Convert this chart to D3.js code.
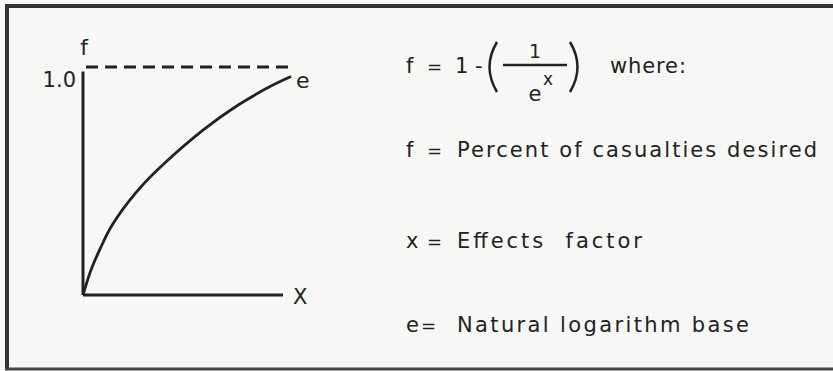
<!DOCTYPE html>
<html>
<head>
<meta charset="utf-8">
<script src="https://cdn.jsdelivr.net/npm/d3@7"></script>
<style>
  body { margin: 0; background: #f7f7f5; }
  svg text { font-family: "DejaVu Sans", sans-serif; fill: #222; }
</style>
</head>
<body>
<svg id="chart"></svg>
<script>
// values (x in axis lengths, f as fraction of 1.0)
const curveX = [0, 0.04, 0.09, 0.14, 0.225, 0.31, 0.39, 0.60, 0.77, 0.935, 1.04];
const curveF = [0, 0.110, 0.211, 0.298, 0.406, 0.494, 0.564, 0.723, 0.830, 0.914, 0.958];
const fTicks = [1.0];
const defSymbols = ["f", "x", "e"];
const defTexts = ["Percent of casualties desired", "Effects  factor", "Natural logarithm base"];

(() => {
    const width = 833;
    const height = 371;
    const ink = "#222";

    const svg = d3.select("#chart")
        .attr("width", width)
        .attr("height", height);

    // frame
    svg.append("line").attr("x1", 5).attr("x2", 833).attr("y1", 6).attr("y2", 6)
        .attr("stroke", "#333").attr("stroke-width", 4);
    svg.append("line").attr("x1", 7).attr("x2", 7).attr("y1", 4).attr("y2", 370)
        .attr("stroke", "#333").attr("stroke-width", 4);
    svg.append("line").attr("x1", 5).attr("x2", 833).attr("y1", 369).attr("y2", 369)
        .attr("stroke", "#444").attr("stroke-width", 3);

    const x = d3.scaleLinear().domain([0, 1]).range([83, 283]);
    const y = d3.scaleLinear().domain([0, 1]).range([295, 67]);

    const g = svg.append("g").attr("class", "plot");

    // axes
    g.append("line")
        .attr("x1", x(0)).attr("x2", x(0))
        .attr("y1", y(0)).attr("y2", y(0.98))
        .attr("stroke", ink).attr("stroke-width", 3);
    g.append("line")
        .attr("x1", x(0)).attr("x2", x(1))
        .attr("y1", y(0)).attr("y2", y(0))
        .attr("stroke", ink).attr("stroke-width", 3);

    // asymptote at 1.0
    g.selectAll(".asym")
        .data(fTicks)
        .enter()
        .append("line")
        .attr("class", "asym")
        .attr("x1", x(0.015)).attr("x2", x(1.04))
        .attr("y1", d => y(d)).attr("y2", d => y(d))
        .attr("stroke", ink).attr("stroke-width", 3)
        .attr("stroke-dasharray", "12,7");

    g.selectAll(".ftick")
        .data(fTicks)
        .enter()
        .append("text")
        .attr("class", "ftick")
        .attr("x", x(0) - 7)
        .attr("y", d => y(d) + 20)
        .attr("text-anchor", "end")
        .attr("font-size", "21px")
        .text(d => d.toFixed(1));

    // curve
    const pts = curveX.map((v, i) => [v, curveF[i]]);
    const line = d3.line()
        .x(d => x(d[0]))
        .y(d => y(d[1]))
        .curve(d3.curveCatmullRom.alpha(0.5));
    g.append("path")
        .datum(pts)
        .attr("d", line)
        .attr("fill", "none")
        .attr("stroke", ink)
        .attr("stroke-width", 2.8);

    // axis names
    g.append("text").attr("x", x(0) + 1).attr("y", 55)
        .attr("text-anchor", "middle").attr("font-size", "22px").text("f");
    g.append("text").attr("x", x(1) + 10).attr("y", y(0) + 9)
        .attr("font-size", "21px").text("X");
    g.append("text").attr("x", x(curveX[curveX.length - 1]) + 5).attr("y", 88)
        .attr("font-size", "22px").text("e");

    // formula
    const fm = svg.append("g").attr("class", "formula");
    fm.append("text").attr("x", 406).attr("y", 73).attr("font-size", "21px").text("f");
    fm.append("text").attr("x", 427).attr("y", 73).attr("font-size", "18px").text("=");
    fm.append("text").attr("x", 455).attr("y", 73).attr("font-size", "21px").text("1");
    fm.append("text").attr("x", 475).attr("y", 73).attr("font-size", "21px").text("-");
    // tall parentheses
    fm.append("path")
        .attr("d", "M497,42 Q482,67 497,92")
        .attr("fill", "none").attr("stroke", ink).attr("stroke-width", 2.5);
    fm.append("path")
        .attr("d", "M570,42 Q585,67 570,92")
        .attr("fill", "none").attr("stroke", ink).attr("stroke-width", 2.5);
    fm.append("text").attr("x", 535).attr("y", 58).attr("text-anchor", "middle")
        .attr("font-size", "19px").text("1");
    fm.append("line").attr("x1", 503).attr("x2", 567).attr("y1", 65).attr("y2", 65)
        .attr("stroke", ink).attr("stroke-width", 2.5);
    fm.append("text").attr("x", 535).attr("y", 101).attr("text-anchor", "middle")
        .attr("font-size", "21px").text("e");
    fm.append("text").attr("x", 548).attr("y", 85).attr("text-anchor", "middle")
        .attr("font-size", "17px").text("x");
    fm.append("text").attr("x", 610).attr("y", 73).attr("font-size", "21px")
        .attr("textLength", 76).attr("lengthAdjust", "spacing").text("where:");

    // definitions
    const rowY = [157, 248, 332];
    const rowW = [360, 185, 292];
    const defs = svg.append("g").attr("class", "defs");
    defs.selectAll(".sym")
        .data(defSymbols)
        .enter()
        .append("text")
        .attr("class", "sym")
        .attr("x", 406)
        .attr("y", (d, i) => rowY[i])
        .attr("font-size", "21px")
        .text(d => d);
    defs.selectAll(".eq")
        .data(defSymbols)
        .enter()
        .append("text")
        .attr("class", "eq")
        .attr("x", (d, i) => i === 2 ? 421 : 427)
        .attr("y", (d, i) => rowY[i])
        .attr("font-size", "18px")
        .text("=");
    defs.selectAll(".def")
        .data(defTexts)
        .enter()
        .append("text")
        .attr("class", "def")
        .attr("x", 457)
        .attr("y", (d, i) => rowY[i])
        .attr("font-size", "21px")
        .style("white-space", "pre")
        .attr("textLength", (d, i) => rowW[i])
        .attr("lengthAdjust", "spacing")
        .text(d => d);
})();
</script>
</body>
</html>
